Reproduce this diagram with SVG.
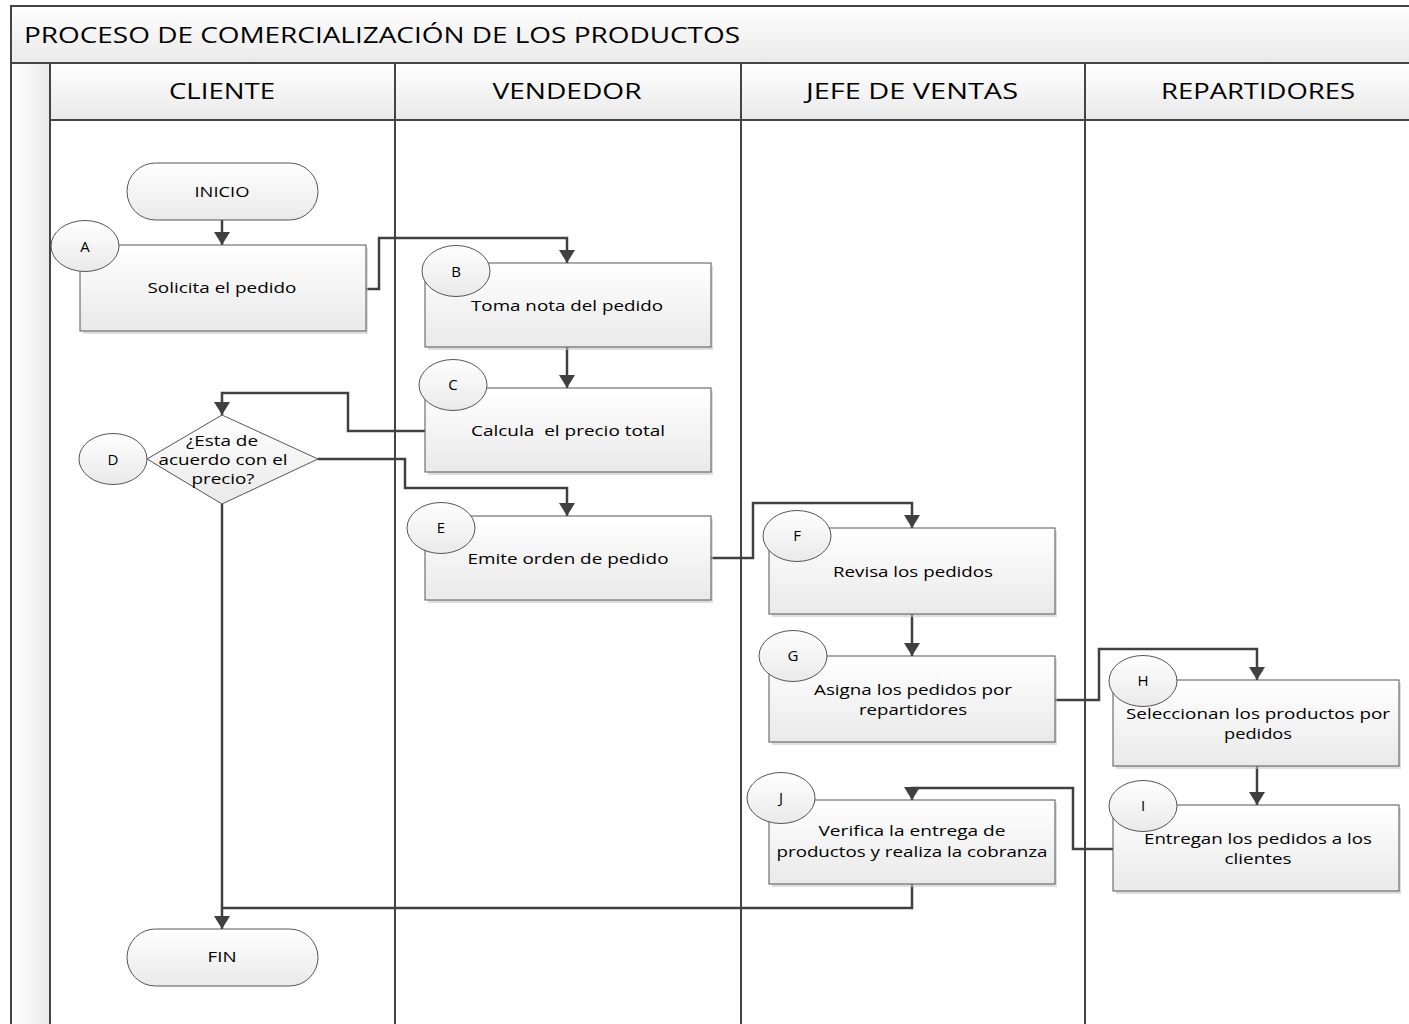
<svg xmlns="http://www.w3.org/2000/svg" width="1409" height="1024" viewBox="0 0 1409 1024">
<defs>
<linearGradient id="gV" x1="0" y1="0" x2="0" y2="1"><stop offset="0" stop-color="#ffffff"/><stop offset="1" stop-color="#e9e9e9"/></linearGradient>
<linearGradient id="gH" x1="0" y1="0" x2="1" y2="0"><stop offset="0" stop-color="#ffffff"/><stop offset="1" stop-color="#e9e9e9"/></linearGradient>
<marker id="arr" markerUnits="userSpaceOnUse" markerWidth="16" markerHeight="16" refX="13" refY="8" orient="auto"><path d="M0,0 L13,8 L0,16 z" fill="#404040"/></marker>
<style>
.t{font-family:"Open Sans","Liberation Sans",sans-serif;fill:#000;text-anchor:middle}
.b{font-size:15px}
.h{font-size:22px}
.box{fill:url(#gV);stroke:#555;stroke-width:1}
.sh{fill:#c8c8c8;opacity:.6}
.cir{fill:url(#gV);stroke:#555;stroke-width:1}
.ln{fill:none;stroke:#444;stroke-width:2}
.c{fill:none;stroke:#404040;stroke-width:2.5;marker-end:url(#arr)}
.cn{fill:none;stroke:#404040;stroke-width:2.5}
</style>
</defs>
<rect width="1409" height="1024" fill="#ffffff"/>
<g id="pool">
<rect x="11" y="6" width="1400" height="57" fill="url(#gV)"/>
<rect x="11" y="63" width="39" height="961" fill="url(#gH)"/>
<rect x="50" y="63" width="1361" height="57" fill="url(#gV)"/>
<path class="ln" d="M1411,6 H11 V1026"/>
<path class="ln" d="M11,63 H1411 M50,120 H1411"/>
<path class="ln" d="M50,63 V1026 M395,63 V1026 M741,63 V1026 M1085,63 V1026"/>
<text class="t h" x="382" y="43" textLength="716" lengthAdjust="spacingAndGlyphs">PROCESO DE COMERCIALIZACIÓN DE LOS PRODUCTOS</text>
<text class="t h" x="222" y="99" textLength="106" lengthAdjust="spacingAndGlyphs">CLIENTE</text>
<text class="t h" x="567" y="99" textLength="149" lengthAdjust="spacingAndGlyphs">VENDEDOR</text>
<text class="t h" x="912" y="99" textLength="212" lengthAdjust="spacingAndGlyphs">JEFE DE VENTAS</text>
<text class="t h" x="1258" y="99" textLength="194" lengthAdjust="spacingAndGlyphs">REPARTIDORES</text>
</g>
<g id="connectors">
<path class="c" d="M222,220 V245"/>
<path class="c" d="M366,289 H379 V238 H567 V263"/>
<path class="c" d="M567,347 V388"/>
<path class="c" d="M425,431 H348 V393 H222 V415"/>
<path class="c" d="M318,459 H405 V488 H567 V516"/>
<path class="c" d="M711,558 H753 V503 H912 V528"/>
<path class="c" d="M912,614 V656"/>
<path class="c" d="M1055,700 H1099 V649 H1257 V680"/>
<path class="c" d="M1257,766 V805"/>
<path class="c" d="M1113,849 H1073 V788 H912 V800"/>
<path class="cn" d="M912,884 V908 H222"/>
<path class="c" d="M222,504 V929"/>
</g>
<g id="inicio">
<rect x="127" y="163" width="191" height="57" rx="28.5" class="box"/>
<text class="t b" x="222" y="197" textLength="55" lengthAdjust="spacingAndGlyphs">INICIO</text>
</g>
<g id="nodeA">
<rect x="83" y="248" width="285" height="86" class="sh"/>
<rect x="80" y="245" width="286" height="86" class="box"/>
<ellipse cx="85" cy="246" rx="34" ry="25.5" class="cir"/>
<text class="t b" x="85" y="252">A</text>
<text class="t b" x="222" y="293" textLength="149" lengthAdjust="spacingAndGlyphs">Solicita el pedido</text>
</g>
<g id="nodeB">
<rect x="428" y="266" width="285" height="84" class="sh"/>
<rect x="425" y="263" width="286" height="84" class="box"/>
<ellipse cx="456" cy="271" rx="34" ry="25.5" class="cir"/>
<text class="t b" x="456" y="277">B</text>
<text class="t b" x="567" y="311" textLength="192" lengthAdjust="spacingAndGlyphs">Toma nota del pedido</text>
</g>
<g id="nodeC">
<rect x="428" y="391" width="285" height="84" class="sh"/>
<rect x="425" y="388" width="286" height="84" class="box"/>
<ellipse cx="453" cy="385" rx="34" ry="25.5" class="cir"/>
<text class="t b" x="453" y="390">C</text>
<text class="t b" x="568" y="436" textLength="194" lengthAdjust="spacingAndGlyphs" xml:space="preserve">Calcula  el precio total</text>
</g>
<g id="nodeD">
<polygon points="147,459 222,415 318,459 222,504" class="box"/>
<ellipse cx="113" cy="459" rx="34" ry="25.5" class="cir"/>
<text class="t b" x="113" y="465">D</text>
<text class="t b" x="222" y="446" textLength="72" lengthAdjust="spacingAndGlyphs">¿Esta de</text>
<text class="t b" x="223" y="465" textLength="129" lengthAdjust="spacingAndGlyphs">acuerdo con el</text>
<text class="t b" x="223" y="484" textLength="63" lengthAdjust="spacingAndGlyphs">precio?</text>
</g>
<g id="nodeE">
<rect x="428" y="519" width="285" height="84" class="sh"/>
<rect x="425" y="516" width="286" height="84" class="box"/>
<ellipse cx="441" cy="528" rx="34" ry="25.5" class="cir"/>
<text class="t b" x="441" y="533">E</text>
<text class="t b" x="568" y="564" textLength="201" lengthAdjust="spacingAndGlyphs">Emite orden de pedido</text>
</g>
<g id="nodeF">
<rect x="772" y="531" width="285" height="86" class="sh"/>
<rect x="769" y="528" width="286" height="86" class="box"/>
<ellipse cx="797" cy="536" rx="34" ry="25.5" class="cir"/>
<text class="t b" x="797" y="541">F</text>
<text class="t b" x="913" y="577" textLength="160" lengthAdjust="spacingAndGlyphs">Revisa los pedidos</text>
</g>
<g id="nodeG">
<rect x="772" y="659" width="285" height="86" class="sh"/>
<rect x="769" y="656" width="286" height="86" class="box"/>
<ellipse cx="793" cy="656" rx="34" ry="25.5" class="cir"/>
<text class="t b" x="793" y="661">G</text>
<text class="t b" x="913" y="695" textLength="198" lengthAdjust="spacingAndGlyphs">Asigna los pedidos por</text>
<text class="t b" x="913" y="715" textLength="108" lengthAdjust="spacingAndGlyphs">repartidores</text>
</g>
<g id="nodeH">
<rect x="1116" y="683" width="285" height="86" class="sh"/>
<rect x="1113" y="680" width="286" height="86" class="box"/>
<ellipse cx="1143" cy="681" rx="34" ry="25.5" class="cir"/>
<text class="t b" x="1143" y="686">H</text>
<text class="t b" x="1258" y="719" textLength="264" lengthAdjust="spacingAndGlyphs">Seleccionan los productos por</text>
<text class="t b" x="1258" y="739" textLength="68" lengthAdjust="spacingAndGlyphs">pedidos</text>
</g>
<g id="nodeI">
<rect x="1116" y="808" width="285" height="86" class="sh"/>
<rect x="1113" y="805" width="286" height="86" class="box"/>
<ellipse cx="1143" cy="806" rx="34" ry="25.5" class="cir"/>
<text class="t b" x="1143" y="811">I</text>
<text class="t b" x="1258" y="844" textLength="228" lengthAdjust="spacingAndGlyphs">Entregan los pedidos a los</text>
<text class="t b" x="1258" y="864" textLength="67" lengthAdjust="spacingAndGlyphs">clientes</text>
</g>
<g id="nodeJ">
<rect x="772" y="803" width="285" height="84" class="sh"/>
<rect x="769" y="800" width="286" height="84" class="box"/>
<ellipse cx="781" cy="798" rx="34" ry="25.5" class="cir"/>
<text class="t b" x="781" y="803">J</text>
<text class="t b" x="912" y="836" textLength="187" lengthAdjust="spacingAndGlyphs">Verifica la entrega de</text>
<text class="t b" x="912" y="857" textLength="271" lengthAdjust="spacingAndGlyphs">productos y realiza la cobranza</text>
</g>
<g id="fin">
<rect x="127" y="929" width="191" height="57" rx="28.5" class="box"/>
<text class="t b" x="222" y="962" textLength="29" lengthAdjust="spacingAndGlyphs">FIN</text>
</g>
</svg>
